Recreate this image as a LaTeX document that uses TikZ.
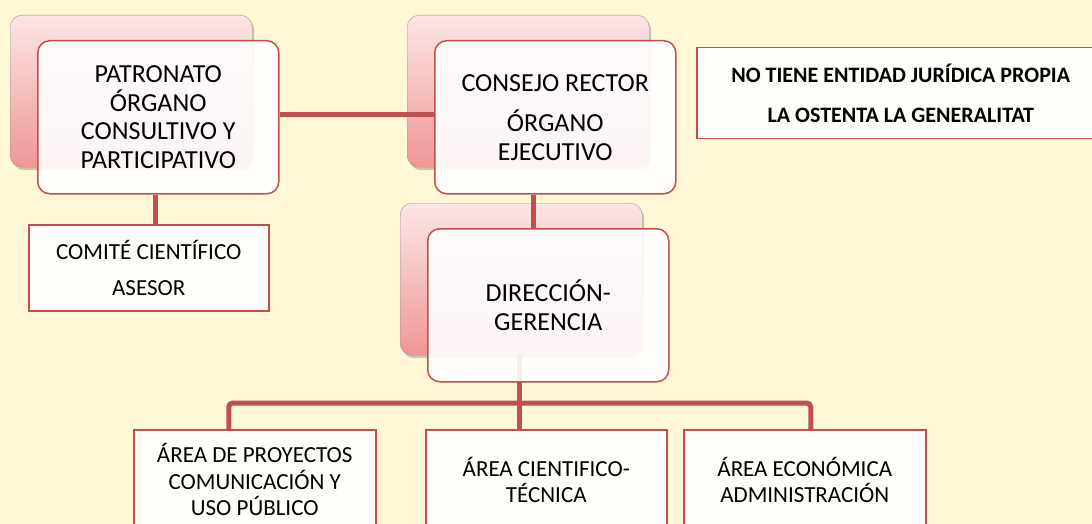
\documentclass[tikz,border=0pt]{standalone}
\usepackage{fontspec}
\setmainfont{Carlito}
\usetikzlibrary{positioning,calc,shadows}
\usepackage{xcolor}

\definecolor{paperYellow}{RGB}{255,247,214}
\definecolor{accentRed}{RGB}{192,80,77}
\definecolor{pinkTop}{RGB}{252,230,230}
\definecolor{pinkBot}{RGB}{240,150,150}
\definecolor{boxWhite}{RGB}{255,253,249}

\pgfdeclarelayer{backdrop}
\pgfdeclarelayer{links}
\pgfsetlayers{backdrop,links,main}

\begin{document}
\begin{tikzpicture}[
    x=1pt, y=-1pt,
    backcard/.style={
        draw=gray!80,
        top color=pinkTop,
        bottom color=pinkBot,
        rounded corners=12pt,
        minimum width=242pt,
        minimum height=152pt,
        anchor=north west,
        drop shadow={opacity=0.4, shadow xshift=2pt, shadow yshift=-3pt}
    },
    frontcard/.style={
        draw=accentRed,
        line width=1.5pt,
        fill=white,
        fill opacity=0.9,
        text opacity=1,
        rounded corners=12pt,
        minimum width=241pt,
        minimum height=153pt,
        anchor=north west,
        align=center,
        font=\fontsize{26}{28.5}\selectfont
    },
    unitbox/.style={
        draw=accentRed,
        line width=1.5pt,
        fill=boxWhite,
        minimum width=242pt,
        minimum height=100pt,
        anchor=north west,
        align=center,
        font=\fontsize{23}{26.5}\selectfont
    },
    link/.style={draw=accentRed, line width=5pt}
]

    % Page size fixed to the reference
    \useasboundingbox (0,0) rectangle (1092,524);

    % Yellow paper and the shaded cards behind the three governing bodies
    \begin{pgfonlayer}{backdrop}
        \fill[paperYellow] (0,0) rectangle (1092,524);
        \node[backcard] (patBack) at (10,15) {};
        \node[backcard] (conBack) at (407,15) {};
        \node[backcard] (dirBack) at (400,203) {};
    \end{pgfonlayer}

    % Governing bodies
    \node[frontcard] (patFront) at (37,40) {
        PATRONATO\\
        ÓRGANO\\
        CONSULTIVO Y\\
        PARTICIPATIVO
    };
    \node[frontcard] (conFront) at (434,40) {
        CONSEJO RECTOR\\[12pt]
        ÓRGANO\\
        EJECUTIVO
    };
    \node[frontcard] (dirFront) at (427,228) {
        DIRECCIÓN-\\
        GERENCIA
    };

    % Advisory committee under the patronato
    \node[unitbox, minimum width=240pt, minimum height=86pt,
          font=\fontsize{23}{36}\selectfont] (comite) at (28,224) {
        COMITÉ CIENTÍFICO\\
        ASESOR
    };

    % Legal status note, running off the right edge
    \node[unitbox, minimum width=408pt, minimum height=91pt,
          font=\bfseries\fontsize{22}{40}\selectfont] (legal) at (696,47) {
        NO TIENE ENTIDAD JURÍDICA PROPIA\\
        LA OSTENTA LA GENERALITAT
    };

    % Working areas, cut by the bottom edge
    \node[unitbox] (area1) at (133,429) {
        ÁREA DE PROYECTOS\\
        COMUNICACIÓN Y\\
        USO PÚBLICO
    };
    \node[unitbox, minimum width=241pt] (area2) at (425,429) {
        ÁREA CIENTIFICO-\\
        TÉCNICA
    };
    \node[unitbox] (area3) at (683,429) {
        ÁREA ECONÓMICA\\
        ADMINISTRACIÓN
    };

    % Connectors, drawn under the front cards
    \begin{pgfonlayer}{links}
        \coordinate (hub) at (519,403);
        \draw[link] ([yshift=3pt]patFront.east) -- ([yshift=3pt]conFront.west);
        \draw[link] ([xshift=-2.5pt]patFront.south) -- ([xshift=-2.5pt]patFront.south |- comite.north);
        \draw[link] ([xshift=-21.5pt]conFront.south) -- ([xshift=-21.5pt]conFront.south |- dirFront.north);
        \draw[link] (dirBack.south -| hub) -- (hub);
        \draw[link, rounded corners=4pt] ([xshift=-26pt]area1.north) |- (hub) -| ([xshift=6pt]area3.north);
        \draw[link] (hub) -- (hub |- area2.north);
    \end{pgfonlayer}

\end{tikzpicture}
\end{document}
